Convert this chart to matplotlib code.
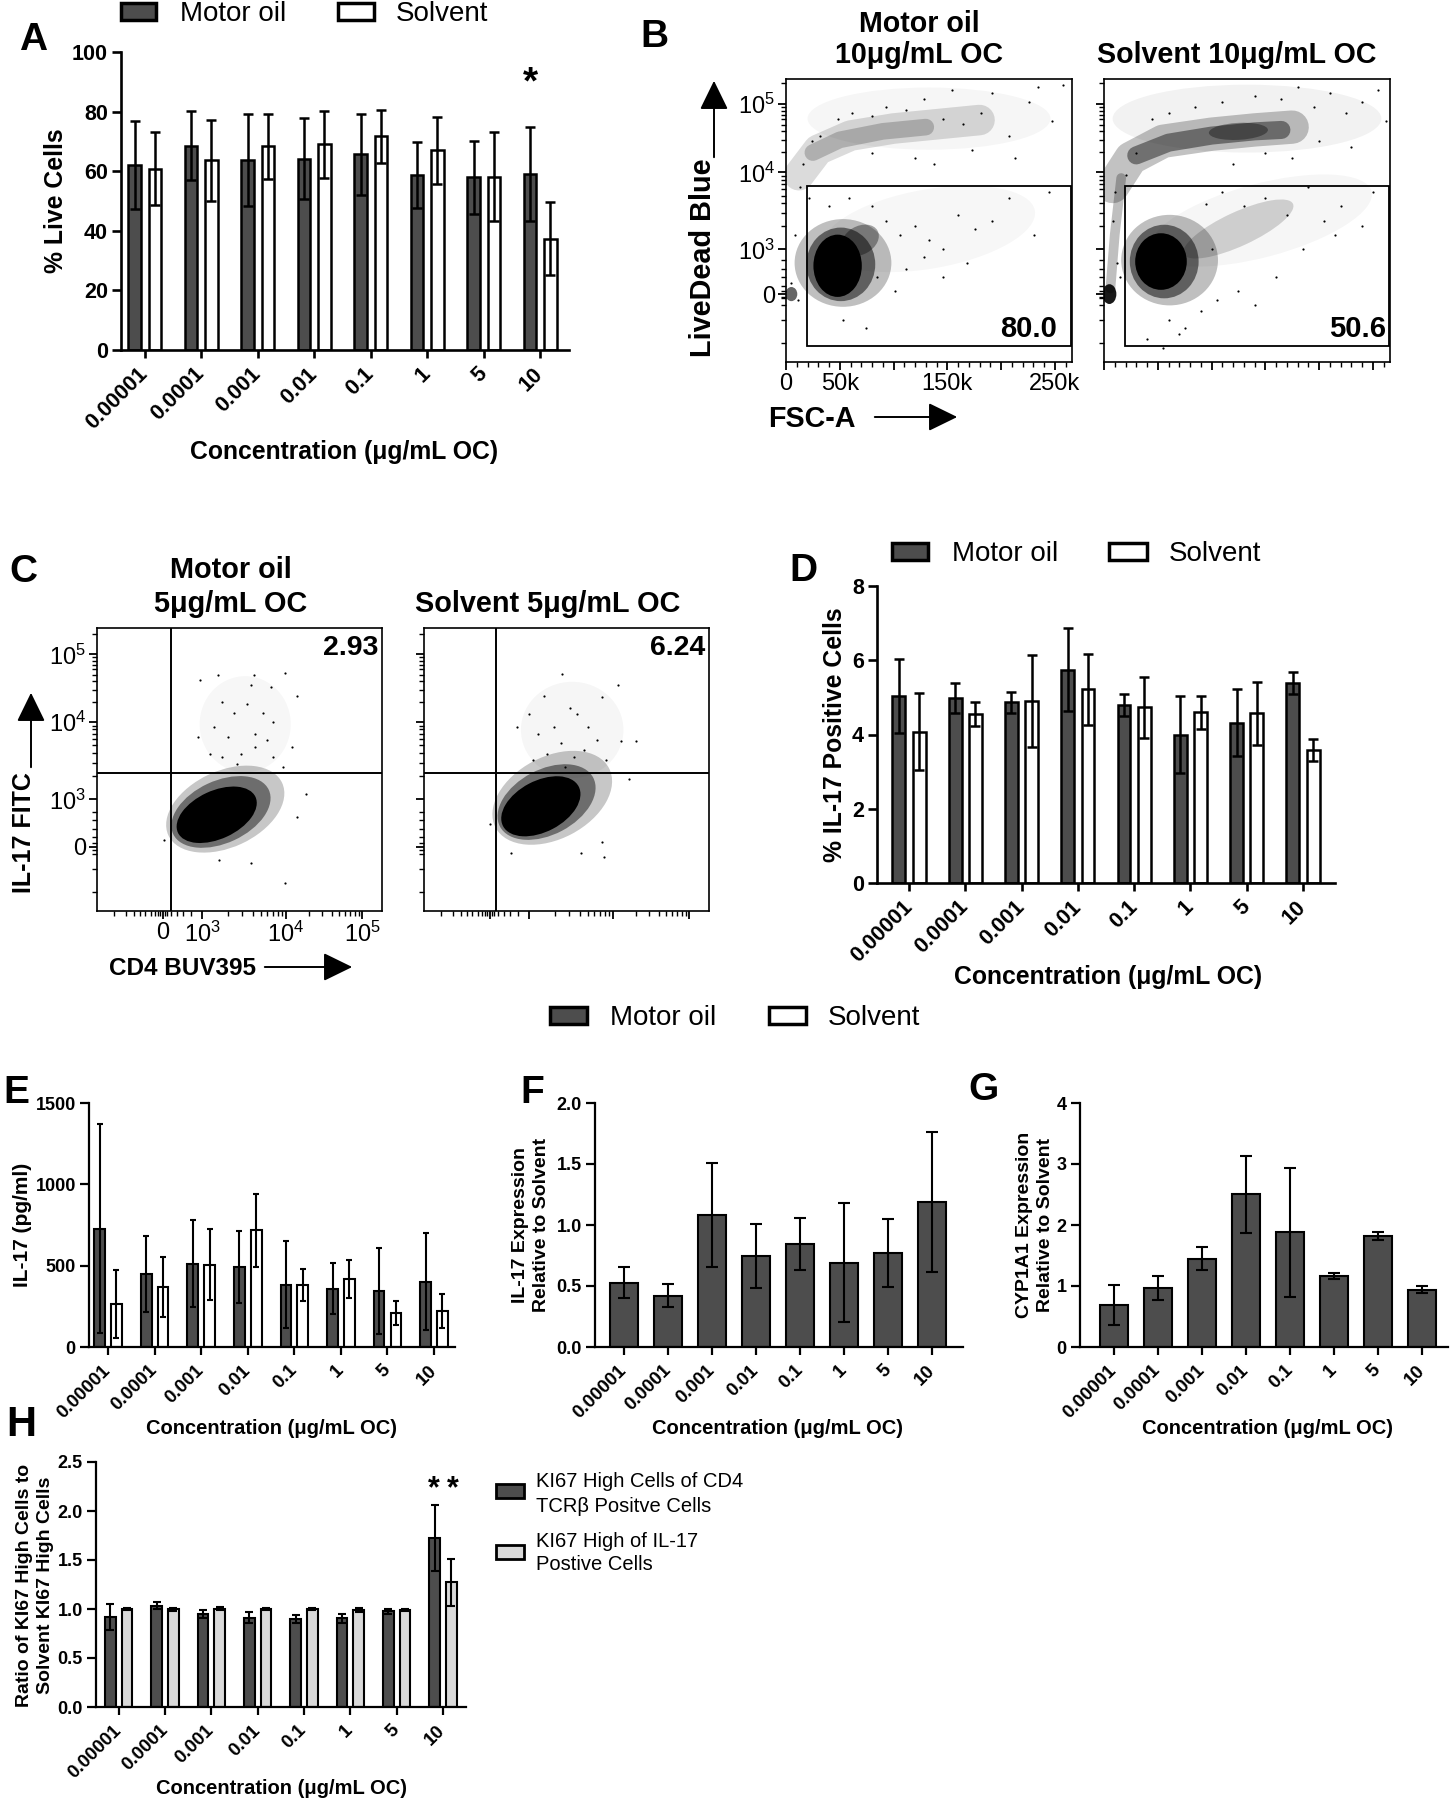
import numpy as np
import matplotlib
matplotlib.use('Agg')
import matplotlib.pyplot as plt
from matplotlib.patches import Rectangle, Ellipse, FancyArrowPatch

W, H = 1454, 1800
FONT = 'Liberation Sans'
plt.rcParams['font.family'] = [FONT, 'DejaVu Sans']
plt.rcParams['mathtext.fontset'] = 'custom'
plt.rcParams['mathtext.rm'] = FONT
plt.rcParams['mathtext.bf'] = FONT + ':bold'

OIL = '#4d4d4d'
LIGHT = '#d9d9d9'

## data
conc = ['0.00001', '0.0001', '0.001', '0.01', '0.1', '1', '5', '10']

# A - % live cells
live_oil = [62.1, 68.6, 63.8, 64.2, 65.7, 58.7, 58.0, 59.1]
live_oil_err = [14.8, 11.7, 15.4, 13.6, 13.6, 11.0, 12.3, 15.8]
live_sol = [60.8, 63.6, 68.3, 69.0, 71.7, 67.0, 58.2, 37.4]
live_sol_err = [12.2, 13.7, 11.0, 11.3, 8.8, 11.2, 15.0, 12.3]

# D - % IL-17 positive cells
pos_oil = [5.04, 4.98, 4.87, 5.75, 4.80, 4.00, 4.32, 5.38]
pos_oil_err = [0.99, 0.40, 0.28, 1.11, 0.30, 1.04, 0.90, 0.30]
pos_sol = [4.08, 4.55, 4.89, 5.22, 4.73, 4.60, 4.57, 3.58]
pos_sol_err = [1.03, 0.32, 1.24, 0.96, 0.83, 0.45, 0.84, 0.29]

# E - IL-17 pg/ml
il17_oil = [727, 451, 512, 492, 383, 357, 344, 402]
il17_oil_err = [644, 233, 267, 219, 269, 157, 265, 299]
il17_sol = [266, 369, 506, 717, 383, 418, 209, 223]
il17_sol_err = [209, 184, 217, 223, 99, 119, 76, 105]

# F - IL-17 expression
il17_expr = [0.527, 0.421, 1.082, 0.746, 0.847, 0.691, 0.770, 1.189]
il17_expr_err = [0.126, 0.093, 0.426, 0.265, 0.213, 0.489, 0.282, 0.576]

# G - CYP1A1 expression
cyp_expr = [0.689, 0.973, 1.448, 2.503, 1.880, 1.164, 1.825, 0.940]
cyp_expr_err = [0.333, 0.196, 0.186, 0.628, 1.060, 0.055, 0.066, 0.055]

# H - KI67 ratios
ki67_cd4 = [0.918, 1.034, 0.952, 0.912, 0.901, 0.905, 0.976, 1.724]
ki67_cd4_err = [0.133, 0.034, 0.041, 0.054, 0.041, 0.044, 0.024, 0.341]
ki67_il17 = [1.003, 0.997, 1.003, 0.997, 1.003, 0.986, 0.990, 1.272]
ki67_il17_err = [0.011, 0.013, 0.014, 0.010, 0.011, 0.020, 0.010, 0.242]

# B - flow plots, FSC-A (k) vs LiveDead Blue (display scale 0-1)
FSC_MAX = 266
b_gate = [19.5, 0.055, 0.623]   # x left (k), y bottom, y top
b_gate_pct = ['80.0', '50.6']
# populations drawn as shaded ellipses: (x k, y, width k, height, angle, alpha)
b_oil_pops = [(133, 0.86, 226, 0.22, 0, 0.035), (133, 0.47, 200, 0.28, 10, 0.03),
              (53, 0.35, 90, 0.31, 0, 0.25), (51, 0.345, 64, 0.26, 0, 0.5),
              (48, 0.34, 45, 0.22, 0, 1.0), (69, 0.43, 37, 0.10, 30, 0.35),
              (5, 0.24, 11, 0.05, 0, 0.6)]
# curved bands drawn as thick translucent paths: (x k list, y list, width pt, alpha)
b_oil_bands = [([12, 30, 60, 100, 140, 180], [0.66, 0.75, 0.80, 0.825, 0.84, 0.855], 22, 0.14),
               ([25, 50, 90, 130], [0.74, 0.785, 0.815, 0.83], 12, 0.20)]
b_oil_dots_x = [13, 16, 24, 32, 48, 61, 80, 93, 112, 128, 146, 154, 165, 181, 192, 207, 226, 234,
                247, 258, 173, 120, 138, 80, 213, 80, 93, 106, 120, 133, 146, 160, 176, 192, 207,
                231, 245, 85, 101, 112, 128, 146, 168, 53, 74, 21, 40, 59, 8, 5, 11]
b_oil_dots_y = [0.62, 0.70, 0.78, 0.80, 0.86, 0.88, 0.87, 0.90, 0.89, 0.93, 0.86, 0.96, 0.84, 0.88,
                0.95, 0.80, 0.92, 0.97, 0.85, 0.98, 0.75, 0.72, 0.70, 0.74, 0.72, 0.55, 0.50, 0.45,
                0.48, 0.43, 0.40, 0.52, 0.47, 0.50, 0.58, 0.45, 0.60, 0.30, 0.25, 0.33, 0.37, 0.30,
                0.35, 0.15, 0.12, 0.58, 0.55, 0.58, 0.45, 0.28, 0.22]
b_sol_pops = [(133, 0.86, 250, 0.24, 0, 0.05), (146, 0.50, 213, 0.26, 15, 0.035),
              (5, 0.24, 13, 0.07, 0, 0.9), (125, 0.47, 112, 0.12, 25, 0.16),
              (61, 0.36, 90, 0.32, 0, 0.25), (56, 0.355, 64, 0.26, 0, 0.5),
              (53, 0.355, 48, 0.20, 0, 1.0), (125, 0.815, 55, 0.06, 3, 0.35)]
b_sol_bands = [([8, 25, 55, 100, 140, 175], [0.62, 0.72, 0.78, 0.805, 0.82, 0.83], 24, 0.24),
               ([30, 60, 100, 140, 165], [0.73, 0.775, 0.80, 0.815, 0.82], 13, 0.42),
               ([6, 10, 16], [0.26, 0.45, 0.65], 7, 0.25)]
b_sol_dots_x = [10, 20, 30, 45, 60, 85, 110, 140, 165, 180, 195, 210, 225, 240, 255, 262, 200, 230,
                150, 175, 120, 95, 110, 130, 150, 170, 190, 205, 220, 240, 250, 60, 75, 90, 105,
                125, 140, 160, 40, 55, 70, 8, 12, 15, 100, 185, 215]
b_sol_dots_y = [0.60, 0.66, 0.74, 0.86, 0.88, 0.90, 0.92, 0.94, 0.93, 0.97, 0.90, 0.95, 0.88, 0.92,
                0.96, 0.85, 0.78, 0.76, 0.74, 0.72, 0.70, 0.56, 0.60, 0.55, 0.58, 0.52, 0.62, 0.50,
                0.55, 0.48, 0.60, 0.15, 0.12, 0.18, 0.22, 0.25, 0.20, 0.30, 0.08, 0.05, 0.10, 0.50,
                0.35, 0.30, 0.40, 0.40, 0.45]

# C - flow plots, CD4 BUV395 vs IL-17 FITC (display scale 0-1)
c_quad_x = [0.26, 0.253]
c_quad_y = 0.488
c_quad_pct = ['2.93', '6.24']
c_oil_pops = [(0.52, 0.66, 0.32, 0.34, 0, 0.03), (0.45, 0.36, 0.44, 0.27, 25, 0.22),
              (0.435, 0.35, 0.37, 0.22, 25, 0.45), (0.42, 0.34, 0.30, 0.17, 25, 1.0)]
c_oil_dots_x = [0.363, 0.424, 0.552, 0.659, 0.54, 0.61, 0.70, 0.44, 0.48, 0.525, 0.584, 0.619, 0.41,
                0.459, 0.555, 0.595, 0.355, 0.395, 0.507, 0.555, 0.619, 0.651, 0.491, 0.44, 0.683,
                0.732, 0.70, 0.659, 0.235, 0.539, 0.427]
c_oil_dots_y = [0.815, 0.833, 0.835, 0.841, 0.80, 0.79, 0.76, 0.74, 0.70, 0.733, 0.70, 0.668, 0.65,
                0.615, 0.627, 0.604, 0.615, 0.556, 0.556, 0.58, 0.545, 0.51, 0.52, 0.545, 0.58,
                0.415, 0.333, 0.10, 0.25, 0.168, 0.18]
c_sol_pops = [(0.52, 0.64, 0.36, 0.34, 0, 0.035), (0.45, 0.40, 0.45, 0.29, 28, 0.22),
              (0.43, 0.385, 0.37, 0.23, 28, 0.45), (0.41, 0.37, 0.30, 0.18, 28, 1.0)]
c_sol_dots_x = [0.485, 0.68, 0.42, 0.624, 0.368, 0.512, 0.69, 0.744, 0.328, 0.40, 0.456, 0.536,
                0.576, 0.608, 0.48, 0.432, 0.528, 0.56, 0.64, 0.384, 0.496, 0.72, 0.624, 0.632,
                0.304, 0.552, 0.232]
c_sol_dots_y = [0.839, 0.80, 0.76, 0.755, 0.697, 0.716, 0.60, 0.60, 0.651, 0.627, 0.651, 0.697,
                0.651, 0.604, 0.592, 0.556, 0.545, 0.568, 0.533, 0.533, 0.509, 0.468, 0.245, 0.192,
                0.204, 0.204, 0.309]

# flow axis scales (tick positions on the display scale)
b_x_major = [0, 50, 100, 150, 200, 250]
b_x_labels = ['0', '50k', '', '150k', '', '250k']
b_y_major = [0.912, 0.670, 0.398, 0.24]
c_y_major = [0.907, 0.668, 0.394, 0.227]
c_x_major = [0.23, 0.37, 0.663, 0.93]
flow_y_labels = [r'$\mathregular{10^5}$', r'$\mathregular{10^4}$', r'$\mathregular{10^3}$', '0']
c_x_labels = ['0', r'$\mathregular{10^3}$', r'$\mathregular{10^4}$', r'$\mathregular{10^5}$']


fig = plt.figure(figsize=(W / 100, H / 100), dpi=100)


def fx(x):
    return x / W


def fy(y):
    return 1 - y / H


def add_ax(l, t, r, b):
    return fig.add_axes([l / W, 1 - b / H, (r - l) / W, (b - t) / H])


def ftext(x, y, s, **kw):
    fig.text(fx(x), fy(y), s, **kw)


def fbox(x0, y0, x1, y1, color, lw=2.5):
    fig.patches.append(Rectangle((fx(x0), fy(y1)), (x1 - x0) / W, (y1 - y0) / H,
                                 transform=fig.transFigure, facecolor=color,
                                 edgecolor='black', linewidth=lw))


def farrow(x0, y0, x1, y1):
    fig.add_artist(FancyArrowPatch((fx(x0), fy(y0)), (fx(x1), fy(y1)), transform=fig.transFigure,
                                   arrowstyle='-|>,head_length=0.45,head_width=0.22',
                                   mutation_scale=40, lw=1.4, color='black'))


def log_minors(lo, hi, upto=10):
    return [lo + (hi - lo) * np.log10(k) for k in range(2, upto)]


def bar_axes(l, t, r, b, xlim, ylim, yticks, ylabels, fs, fsx, lw):
    ax = add_ax(l, t, r, b)
    for s in ['top', 'right']:
        ax.spines[s].set_visible(False)
    ax.spines['left'].set_linewidth(lw)
    ax.spines['bottom'].set_linewidth(lw)
    ax.set_xlim(*xlim)
    ax.set_ylim(*ylim)
    ax.set_yticks(yticks)
    ax.set_yticklabels(ylabels, fontsize=fs, fontweight='bold')
    ax.set_xticks(range(len(conc)))
    ax.set_xticklabels(conc, rotation=45, ha='right', va='center', rotation_mode='anchor',
                       fontsize=fsx, fontweight='bold')
    ax.tick_params(axis='y', direction='out', length=6.5, width=lw, pad=3)
    ax.tick_params(axis='x', direction='out', length=6, width=lw, pad=9)
    return ax


def bars(ax, offset, width, vals, errs, color, lw, cap):
    x = np.arange(len(vals)) + offset
    ax.bar(x, vals, width, color=color, edgecolor='black', linewidth=lw, zorder=2)
    ax.errorbar(x, vals, yerr=errs, fmt='none', ecolor='black', elinewidth=lw,
                capsize=cap, capthick=lw, zorder=3)


def flow_axes(l, t, r, b, xmax, xmaj, xmin, xlab, ymaj, ymin, ylab, pops, bands, dx, dy):
    # x values are divided by xmax so the display box is 0-1 on both axes
    ax = add_ax(l, t, r, b)
    ax.set_xlim(0, 1)
    ax.set_ylim(0, 1)
    for s in ax.spines.values():
        s.set_linewidth(1.2)
    ax.set_xticks([v / xmax for v in xmaj])
    ax.set_xticks([v / xmax for v in xmin], minor=True)
    ax.set_yticks(ymaj)
    ax.set_yticks(ymin, minor=True)
    if xlab is None:
        ax.set_xticklabels([])
    else:
        ax.set_xticklabels(xlab, fontsize=17)
    if ylab is None:
        ax.set_yticklabels([])
    else:
        ax.set_yticklabels(ylab, fontsize=17)
    ax.tick_params(which='major', direction='out', length=6, width=1.3, pad=2)
    ax.tick_params(which='minor', direction='out', length=3.5, width=1.0)
    for (cx, cy, w, h, ang, a) in pops:
        ax.add_patch(Ellipse((cx / xmax, cy), w / xmax, h, angle=ang, facecolor='black',
                             edgecolor='none', alpha=a, zorder=1))
    for (bx, by, lw, a) in bands:
        ax.plot([v / xmax for v in bx], by, color='black', lw=lw, alpha=a,
                solid_capstyle='round', solid_joinstyle='round', zorder=1)
    ax.scatter([v / xmax for v in dx], dy, s=2.5, c='black', linewidths=0, zorder=2)
    return ax


## A
ax = bar_axes(121, 52, 569, 350, (-0.42, 7.51), (0, 100), [0, 20, 40, 60, 80, 100],
              ['0', '20', '40', '60', '80', '100'], 15.5, 15.5, 1.9)
bars(ax, -0.18, 0.22, live_oil, live_oil_err, OIL, 1.8, 3.5)
bars(ax, 0.18, 0.22, live_sol, live_sol_err, 'white', 1.8, 3.5)
ax.text(7 - 0.18, 89.6, '*', fontsize=28, fontweight='bold', ha='center', va='center')
ftext(19, 50, 'A', fontsize=28, fontweight='bold')
ftext(56, 201, '% Live Cells', fontsize=17.8, fontweight='bold', rotation=90, ha='center', va='center')
ftext(344, 452, 'Concentration (\u03bcg/mL OC)', fontsize=17.8, fontweight='bold', ha='center', va='center')
fbox(121, 3, 156, 20, OIL)
ftext(180, 21, 'Motor oil', fontsize=20, va='baseline')
fbox(338, 3, 374, 20, 'white')
ftext(396, 21, 'Solvent', fontsize=20, va='baseline')

## B
b_y_minor = (log_minors(b_y_major[2], b_y_major[1]) + log_minors(b_y_major[1], b_y_major[0])
             + log_minors(b_y_major[0], b_y_major[0] + 0.242, 3)
             + [0.27, 0.30, 0.33, 0.36, 0.067, 0.15, 0.20, 0.225, 0.23, 0.25])
b_x_minor = list(range(10, 266, 10))
flow_axes(786, 79, 1072, 362, FSC_MAX, b_x_major, b_x_minor, b_x_labels, b_y_major, b_y_minor,
          flow_y_labels, b_oil_pops, b_oil_bands, b_oil_dots_x, b_oil_dots_y)
flow_axes(1104, 79, 1390, 362, FSC_MAX, b_x_major, b_x_minor, None, b_y_major, b_y_minor,
          None, b_sol_pops, b_sol_bands, b_sol_dots_x, b_sol_dots_y)
for (l, r) in [(786, 1072), (1104, 1390)]:
    gx = l + (r - l) * b_gate[0] / FSC_MAX
    fig.patches.append(Rectangle((fx(gx), fy(362 - 283 * b_gate[1])), (r - 1 - gx) / W,
                                 283 * (b_gate[2] - b_gate[1]) / H, transform=fig.transFigure,
                                 facecolor='none', edgecolor='black', linewidth=1.3))
ftext(1057, 337, b_gate_pct[0], fontsize=21, fontweight='bold', ha='right', va='baseline')
ftext(1386, 337, b_gate_pct[1], fontsize=21, fontweight='bold', ha='right', va='baseline')
ftext(640, 47, 'B', fontsize=28, fontweight='bold', va='baseline')
ftext(919, 32, 'Motor oil', fontsize=20.6, fontweight='bold', ha='center', va='baseline')
ftext(919, 63, '10\u03bcg/mL OC', fontsize=20.6, fontweight='bold', ha='center', va='baseline')
ftext(1237, 63, 'Solvent 10\u03bcg/mL OC', fontsize=20.6, fontweight='bold', ha='center', va='baseline')
ftext(703, 258, 'LiveDead Blue', fontsize=20.8, fontweight='bold', rotation=90, ha='center', va='center')
farrow(714, 160, 714, 78)
ftext(768, 427, 'FSC-A', fontsize=20.7, fontweight='bold', va='baseline')
farrow(872, 417, 960, 417)

## C
c_y_minor = (log_minors(c_y_major[2], c_y_major[1]) + log_minors(c_y_major[1], c_y_major[0])
             + log_minors(c_y_major[0], c_y_major[0] + 0.24, 3)
             + [0.26, 0.29, 0.32, 0.35, 0.068, 0.15, 0.20, 0.215, 0.24])
c_x_minor = (log_minors(c_x_major[1], c_x_major[2]) + log_minors(c_x_major[2], c_x_major[3])
             + [0.06, 0.10, 0.13, 0.15, 0.17, 0.19, 0.205, 0.215, 0.222, 0.238, 0.245,
                0.26, 0.28, 0.30, 0.33])
for i, (l, r, pops, dx, dy) in enumerate([(97, 382, c_oil_pops, c_oil_dots_x, c_oil_dots_y),
                                          (424, 709, c_sol_pops, c_sol_dots_x, c_sol_dots_y)]):
    ax = flow_axes(l, 628, r, 911, 1, c_x_major, c_x_minor, c_x_labels if i == 0 else None,
                   c_y_major, c_y_minor, flow_y_labels if i == 0 else None, pops, [], dx, dy)
    ax.axvline(c_quad_x[i], color='black', lw=1.4, zorder=3)
    ax.axhline(c_quad_y, color='black', lw=1.4, zorder=3)
ftext(378, 655, c_quad_pct[0], fontsize=20.5, fontweight='bold', ha='right', va='baseline')
ftext(705, 655, c_quad_pct[1], fontsize=20.5, fontweight='bold', ha='right', va='baseline')
ftext(9, 582, 'C', fontsize=28, fontweight='bold', va='baseline')
ftext(231, 578, 'Motor oil', fontsize=20.8, fontweight='bold', ha='center', va='baseline')
ftext(231, 612, '5\u03bcg/mL OC', fontsize=20.8, fontweight='bold', ha='center', va='baseline')
ftext(548, 612, 'Solvent 5\u03bcg/mL OC', fontsize=20.8, fontweight='bold', ha='center', va='baseline')
ftext(24, 833, 'IL-17 FITC', fontsize=18, fontweight='bold', rotation=90, ha='center', va='center')
farrow(31, 770, 31, 690)
ftext(109, 975, 'CD4 BUV395', fontsize=17.5, fontweight='bold', va='baseline')
farrow(262, 967, 355, 967)

## D
ax = bar_axes(877, 586, 1335, 883, (-0.57, 7.57), (0, 8), [0, 2, 4, 6, 8],
              ['0', '2', '4', '6', '8'], 15.5, 15.5, 1.9)
bars(ax, -0.18, 0.23, pos_oil, pos_oil_err, OIL, 1.8, 3.5)
bars(ax, 0.18, 0.23, pos_sol, pos_sol_err, 'white', 1.8, 3.5)
ftext(789, 581, 'D', fontsize=28, fontweight='bold', va='baseline')
ftext(835, 735, '% IL-17 Positive Cells', fontsize=17.8, fontweight='bold', rotation=90,
      ha='center', va='center')
ftext(1108, 977, 'Concentration (\u03bcg/mL OC)', fontsize=17.8, fontweight='bold', ha='center', va='center')
fbox(892, 543, 928, 560, OIL)
ftext(952, 561, 'Motor oil', fontsize=20, va='baseline')
fbox(1109, 543, 1147, 560, 'white')
ftext(1169, 561, 'Solvent', fontsize=20, va='baseline')

## shared legend for E-G
fbox(550, 1007, 587, 1024, OIL)
ftext(610, 1025, 'Motor oil', fontsize=20, va='baseline')
fbox(769, 1007, 806, 1024, 'white')
ftext(828, 1025, 'Solvent', fontsize=20, va='baseline')

## E
ax = bar_axes(89, 1103, 455, 1347, (-0.41, 7.45), (0, 1500), [0, 500, 1000, 1500],
              ['0', '500', '1000', '1500'], 13, 13.5, 1.6)
bars(ax, -0.18, 0.23, il17_oil, il17_oil_err, OIL, 1.5, 2.5)
bars(ax, 0.18, 0.23, il17_sol, il17_sol_err, 'white', 1.5, 2.5)
ftext(3, 1103, 'E', fontsize=28, fontweight='bold', va='baseline')
ftext(23, 1225, 'IL-17 (pg/ml)', fontsize=15, fontweight='bold', rotation=90, ha='center', va='center')
ftext(272, 1428, 'Concentration (\u03bcg/mL OC)', fontsize=14.5, fontweight='bold', ha='center', va='center')

## F
ax = bar_axes(595, 1103, 963, 1347, (-0.66, 7.7), (0, 2.0), [0, 0.5, 1.0, 1.5, 2.0],
              ['0.0', '0.5', '1.0', '1.5', '2.0'], 13, 13.5, 1.6)
bars(ax, 0, 0.63, il17_expr, il17_expr_err, OIL, 1.5, 4.5)
ftext(520, 1103, 'F', fontsize=28, fontweight='bold', va='baseline')
ftext(531, 1225, 'IL-17 Expression\nRelative to Solvent', fontsize=14, fontweight='bold', rotation=90,
      ha='center', va='center', multialignment='center', linespacing=1.35)
ftext(778, 1428, 'Concentration (\u03bcg/mL OC)', fontsize=14.5, fontweight='bold', ha='center', va='center')

## G
ax = bar_axes(1080, 1103, 1448, 1347, (-0.77, 7.59), (0, 4), [0, 1, 2, 3, 4],
              ['0', '1', '2', '3', '4'], 13, 13.5, 1.6)
bars(ax, 0, 0.63, cyp_expr, cyp_expr_err, OIL, 1.5, 4.5)
ftext(968, 1100, 'G', fontsize=28, fontweight='bold', va='baseline')
ftext(1035, 1225, 'CYP1A1 Expression\nRelative to Solvent', fontsize=14, fontweight='bold', rotation=90,
      ha='center', va='center', multialignment='center', linespacing=1.35)
ftext(1268, 1428, 'Concentration (\u03bcg/mL OC)', fontsize=14.5, fontweight='bold', ha='center', va='center')

## H
ax = bar_axes(96, 1462, 466, 1707, (-0.49, 7.5), (0, 2.5), [0, 0.5, 1.0, 1.5, 2.0, 2.5],
              ['0.0', '0.5', '1.0', '1.5', '2.0', '2.5'], 13, 13.5, 1.6)
bars(ax, -0.18, 0.23, ki67_cd4, ki67_cd4_err, OIL, 1.5, 3)
bars(ax, 0.18, 0.23, ki67_il17, ki67_il17_err, LIGHT, 1.5, 3)
ax.text(7 - 0.2, 2.22, '*', fontsize=22, fontweight='bold', ha='center', va='center')
ax.text(7 + 0.22, 2.22, '*', fontsize=22, fontweight='bold', ha='center', va='center')
ftext(6, 1436, 'H', fontsize=30, fontweight='bold', va='baseline')
ftext(35, 1585, 'Ratio of KI67 High Cells to\nSolvent KI67 High Cells', fontsize=14, fontweight='bold',
      rotation=90, ha='center', va='center', multialignment='center', linespacing=1.35)
ftext(282, 1788, 'Concentration (\u03bcg/mL OC)', fontsize=14.5, fontweight='bold', ha='center', va='center')
fbox(496, 1484, 524, 1498, OIL, lw=2)
ftext(536, 1487, 'KI67 High Cells of CD4', fontsize=14.5, va='baseline')
ftext(536, 1512, 'TCR\u03b2 Positve Cells', fontsize=14.5, va='baseline')
fbox(496, 1545, 524, 1559, LIGHT, lw=2)
ftext(536, 1547, 'KI67 High of IL-17', fontsize=14.5, va='baseline')
ftext(536, 1570, 'Postive Cells', fontsize=14.5, va='baseline')

fig.savefig('out.png', dpi=100)
